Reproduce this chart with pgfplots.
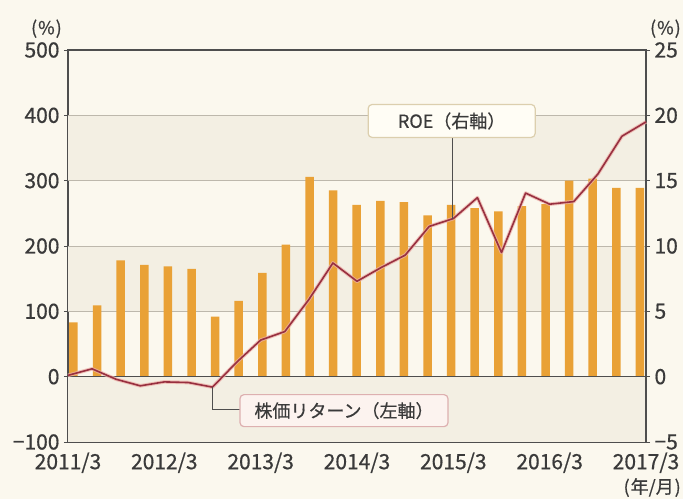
\documentclass[border=0pt]{standalone}
\usepackage{pgfplots}
\pgfplotsset{compat=1.18}
\usepackage{pgfplotstable}
\usepackage{fontspec}
\setmainfont{Noto Sans CJK JP}[FakeBold=0.6]
\definecolor{pagebg}{HTML}{FBF8EE}
\definecolor{bandc}{HTML}{F3EFE3}
\definecolor{gridc}{HTML}{BDB8AC}
\definecolor{framec}{HTML}{4E4E4E}
\definecolor{barc}{HTML}{E9A136}
\definecolor{linec}{HTML}{983040}
\definecolor{haloc}{HTML}{EDB0A8}
\definecolor{boxAb}{HTML}{DCCFAE}
\definecolor{boxAf}{HTML}{FFFDF5}
\definecolor{boxBb}{HTML}{DDB0B0}
\definecolor{boxBf}{HTML}{FCF3EF}
\definecolor{textc}{HTML}{3A3A3A}

\pgfplotstableread{
x y
0.228 83
1.208 109
2.188 178
3.168 171
4.148 169
5.128 165
6.108 92
7.088 116
8.068 159
9.048 202
10.028 306
11.008 285
11.988 263
12.968 269
13.948 267
14.928 247
15.908 263
16.888 258
17.868 253
18.848 261
19.828 264
20.808 300
21.788 303
22.768 289
23.748 289
}\bartable

\pgfplotstableread{
x y
0 0.1
1 0.6
2 -0.2
3 -0.7
4 -0.4
5 -0.45
6 -0.8
7 1.1
8 2.8
9 3.45
10 5.9
11 8.7
12 7.3
13 8.35
14 9.3
15 11.5
16 12.1
17 13.7
18 9.5
19 14.05
20 13.2
21 13.4
22 15.5
23 18.4
24 19.5
}\roetable

\begin{document}
\begin{tikzpicture}
\path[use as bounding box, fill=pagebg] (0,0) rectangle (683pt,499pt);
\begin{axis}[
  at={(68pt,57pt)}, anchor=south west,
  width=578pt, height=392pt, scale only axis,
  xmin=0, xmax=24, ymin=-100, ymax=500,
  axis line style={draw=framec, line width=1.2pt},
  xtick={0,4,...,24},
  xticklabels={2011/3,2012/3,2013/3,2014/3,2015/3,2016/3,2017/3},
  xtick style={draw=none},
  ytick={-100,0,...,500},
  yticklabels={−100,0,100,200,300,400,500},
  ytick pos=left, xtick pos=bottom,
  tick align=outside, major tick length=4pt,
  ytick style={draw=framec, line width=0.8pt},
  tick label style={font=\fontsize{21}{21}\selectfont, text=textc},
  xticklabel style={yshift=-3pt},
  yticklabel style={xshift=-1pt},
  clip=false,
]
\fill[bandc] (axis cs:0,-100) rectangle (axis cs:24,0);
\fill[bandc] (axis cs:0,100) rectangle (axis cs:24,200);
\fill[bandc] (axis cs:0,300) rectangle (axis cs:24,400);
\foreach \g in {100,200,300,400}{
  \edef\temp{\noexpand\draw[gridc, line width=0.9pt] (axis cs:0,\g) -- (axis cs:24,\g);}
  \temp
}
\addplot[ybar, bar width=8.5pt, fill=barc, draw=none] table[x=x,y=y] {\bartable};
\draw[framec, line width=1.3pt] (axis cs:0,0) -- (axis cs:24,0);
\node[anchor=south east, font=\fontsize{18}{18}\selectfont, text=textc, inner sep=0pt]
  at (axis description cs:0,1) [xshift=-6pt, yshift=12pt] {(\kern1pt\%\kern1pt)};
\node[anchor=south east, font=\fontsize{18}{18}\selectfont, text=textc, inner sep=0pt]
  at (axis description cs:1,1) [xshift=35pt, yshift=12pt] {(\kern1pt\%\kern1pt)};
\node[anchor=north east, font=\fontsize{18}{18}\selectfont, text=textc, inner sep=0pt]
  at (axis description cs:1,0) [xshift=35pt, yshift=-36pt] {(\kern1pt年/月\kern1pt)};
\end{axis}
\begin{axis}[
  at={(68pt,57pt)}, anchor=south west,
  width=578pt, height=392pt, scale only axis,
  xmin=0, xmax=24, ymin=-5, ymax=25,
  axis x line=none, axis y line*=right,
  axis line style={draw=framec, line width=1.2pt},
  ytick={-5,0,...,25},
  yticklabels={−5,0,5,10,15,20,25},
  tick align=outside, major tick length=4pt,
  ytick style={draw=framec, line width=0.8pt},
  tick label style={font=\fontsize{21}{21}\selectfont, text=textc},
  yticklabel style={xshift=1pt},
  clip=false,
]
\addplot[haloc, line width=3.6pt, opacity=0.75, line join=round] table[x=x,y=y] {\roetable};
\addplot[linec, line width=1.6pt, line join=round] table[x=x,y=y] {\roetable};
\draw[framec, line width=1pt] (axis cs:15.97,18.3) -- (axis cs:15.97,12.1);
\draw[framec, line width=1pt] (axis cs:6,-0.8) -- (axis cs:6,-2.53) -- (axis cs:7.14,-2.53);
\node[draw=boxAb, fill=boxAf, line width=1.2pt, rounded corners=4pt,
  minimum width=167pt, minimum height=33pt, inner sep=0pt,
  font=\fontsize{18}{18}\selectfont, text=textc]
  at (axis cs:15.93,19.57) {ROE（右軸）};
\node[draw=boxBb, fill=boxBf, line width=1.2pt, rounded corners=4pt,
  minimum width=208pt, minimum height=32pt, inner sep=0pt,
  font=\fontsize{18}{18}\selectfont, text=textc]
  at (axis cs:11.46,-2.6) {株価リターン（左軸）};
\end{axis}
\end{tikzpicture}
\end{document}
